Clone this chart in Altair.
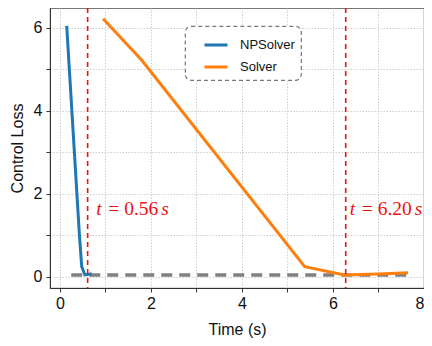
import altair as alt
import pandas as pd

# NPSolver control loss over time
np_time = [0.15, 0.43, 0.48, 0.55, 0.70]
np_loss = [6.05, 1.00, 0.25, 0.05, 0.08]

# Solver control loss over time
s_time = [0.95, 1.80, 5.38, 6.25, 7.00, 7.65]
s_loss = [6.22, 5.22, 0.25, 0.05, 0.07, 0.10]

# reference (threshold) level
ref_time = [0.25, 7.70]
ref_loss = [0.05, 0.05]

# convergence times (vertical markers)
conv_time = [0.61, 6.28]
conv_num = ["= 0.56", "= 6.20"]
label_time = [0.80, 6.37]
label_y = [1.65, 1.65]

series = ["NPSolver", "Solver"]
colors = ["#1f77b4", "#ff7f0e"]

df_lines = pd.concat([
    pd.DataFrame({"time": np_time, "loss": np_loss, "method": "NPSolver"}),
    pd.DataFrame({"time": s_time, "loss": s_loss, "method": "Solver"}),
])
df_ref = pd.DataFrame({"time": ref_time, "loss": ref_loss})
df_conv = pd.DataFrame({"time": conv_time})
df_lab = pd.DataFrame({"time": label_time, "loss": label_y, "num": conv_num})

xscale = alt.Scale(domain=[-0.217, 8.0], nice=False, zero=False)
yscale = alt.Scale(domain=[-0.265, 6.48], nice=False, zero=False)

common = dict(
    grid=True, gridDash=[1.5, 1.5], gridColor="#cfcfcf",
    tickSize=4, tickColor="#333", domainColor="#333",
    labelFontSize=16, titleFontSize=16,
    labelFont="Liberation Sans", titleFont="Liberation Sans",
    titleFontWeight="normal", labelColor="#111", titleColor="#111",
)
xaxis = alt.Axis(
    title="Time (s)", values=list(range(0, 9)),
    labelExpr="datum.value % 2 == 0 ? datum.label : ''",
    labelPadding=3, titlePadding=10, **common,
)
yaxis = alt.Axis(
    title="Control Loss", values=list(range(0, 7)),
    labelExpr="datum.value % 2 == 0 ? datum.label : ''",
    labelPadding=4, titlePadding=8, **common,
)

ref = alt.Chart(df_ref).mark_line(color="#808080", strokeWidth=3.5, strokeDash=[11, 7]).encode(
    x=alt.X("time:Q", scale=xscale, axis=xaxis),
    y=alt.Y("loss:Q", scale=yscale, axis=yaxis),
)

lines = alt.Chart(df_lines).mark_line(strokeWidth=3).encode(
    x=alt.X("time:Q", scale=xscale),
    y=alt.Y("loss:Q", scale=yscale),
    color=alt.Color("method:N", scale=alt.Scale(domain=series, range=colors),
                    legend=alt.Legend(title=None)),
)

red = "#ee1111"
vlines = alt.Chart(df_conv).mark_rule(color=red, strokeWidth=1.6, strokeDash=[5, 4]).encode(
    x=alt.X("time:Q", scale=xscale),
)

tfont = "Liberation Serif"
fs = 19.5
t_txt = alt.Chart(df_lab).mark_text(text="t", font=tfont, fontStyle="italic", fontSize=fs,
                                    color=red, align="left", baseline="middle").encode(
    x=alt.X("time:Q", scale=xscale), y=alt.Y("loss:Q", scale=yscale))
num_txt = alt.Chart(df_lab).mark_text(font=tfont, fontSize=fs, color=red,
                                      align="left", baseline="middle", dx=12).encode(
    x=alt.X("time:Q", scale=xscale), y=alt.Y("loss:Q", scale=yscale), text="num:N")
s_txt = alt.Chart(df_lab).mark_text(text="s", font=tfont, fontStyle="italic", fontSize=fs,
                                    color=red, align="left", baseline="middle", dx=65).encode(
    x=alt.X("time:Q", scale=xscale), y=alt.Y("loss:Q", scale=yscale))

chart = alt.layer(ref, lines, vlines, t_txt, num_txt, s_txt).properties(
    width=374, height=280,
    autosize=alt.AutoSizeParams(type="none"),
    padding={"left": 42, "top": 0, "right": 0, "bottom": 50},
).configure_view(stroke="#777", strokeWidth=1.2).configure_legend(
    orient="none", legendX=135, legendY=18,
    strokeColor="#777", strokeDash=[4, 3], strokeWidth=1.2, cornerRadius=6,
    padding=6, fillColor="white",
    symbolType="stroke", symbolStrokeWidth=3, symbolSize=529, symbolOffset=12,
    labelFontSize=13, labelFont="Liberation Sans", labelColor="#111",
    rowPadding=2, labelOffset=11,
)

chart.save("out.html", embed_options={"renderer": "svg", "actions": False})
